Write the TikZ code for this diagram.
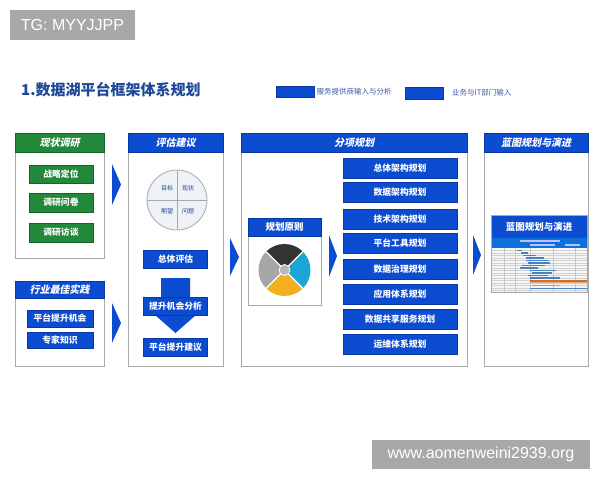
\documentclass[tikz,border=0pt]{standalone}
\usepackage{fontspec}
\setmainfont{Liberation Sans}
\newfontfamily\cjk{Noto Sans CJK SC}
\newfontfamily\cjki{Noto Sans CJK SC}[FakeSlant=0.22]
\definecolor{bblue}{RGB}{12,76,208}
\definecolor{bdark}{RGB}{8,56,160}
\definecolor{ggreen}{RGB}{34,136,58}
\definecolor{gdark}{RGB}{24,100,40}
\definecolor{pgray}{RGB}{166,168,172}
\definecolor{titleblue}{RGB}{30,72,150}
\definecolor{legtext}{RGB}{60,90,160}
\definecolor{wmgray}{RGB}{168,168,168}
\definecolor{circfill}{RGB}{238,241,245}
\definecolor{barblue}{RGB}{70,130,195}
\definecolor{barorange}{RGB}{210,110,40}
\definecolor{wcyan}{RGB}{30,165,215}
\definecolor{wyellow}{RGB}{242,176,30}
\begin{document}
\begin{tikzpicture}[x=1pt,y=-1pt,
  panel/.style={draw=pgray,fill=white,line width=0.8,inner sep=0,rectangle},
  bbox/.style={draw=bdark,fill=bblue,text=white,inner sep=0,line width=0.4,rectangle,
    font=\cjk\bfseries\fontsize{8.8}{9}\selectfont},
  gbox/.style={bbox,draw=gdark,fill=ggreen},
  hdr/.style={bbox,font=\cjki\bfseries\fontsize{10}{11}\selectfont},
  ghdr/.style={hdr,draw=gdark,fill=ggreen},
  chevron/.style={fill=bblue},
  wm/.style={fill=wmgray,text=white,inner sep=0,rectangle,font=\fontsize{16}{18}\selectfont},
  qlabel/.style={text=titleblue,inner sep=0,font=\cjk\fontsize{6}{7}\selectfont}
]
\useasboundingbox (0,0) rectangle (600,480);
\fill[white] (0,0) rectangle (600,480);

% watermarks
\node[wm,minimum width=125,minimum height=30] (wmtop) at (72.5,25) {TG: MYYJJPP};
\node[wm,minimum width=218,minimum height=29] (wmbot) at (481,454.5) {www.aomenweini2939.org};

% title and legend
\node[anchor=west,inner sep=0,text=titleblue,font=\cjk\bfseries\fontsize{15}{16}\selectfont] (title) at (21,90) {1.数据湖平台框架体系规划};
\node[draw=bdark,fill=bblue,inner sep=0,minimum width=38,minimum height=11] (leg1) at (295,91.5) {};
\node[anchor=west,inner sep=0,text=legtext,font=\cjk\fontsize{7.5}{8}\selectfont] (leg1t) at (316.5,91.5) {服务提供商输入与分析};
\node[draw=bdark,fill=bblue,inner sep=0,minimum width=38,minimum height=12] (leg2) at (424,93) {};
\node[anchor=west,inner sep=0,text=legtext,font=\cjk\fontsize{7.5}{8}\selectfont] (leg2t) at (452,93) {业务与IT部门输入};

% column 1 upper
\node[panel,minimum width=89,minimum height=125] (p1) at (59.5,195.5) {};
\node[ghdr,minimum width=89,minimum height=19] (h1) at (59.5,142.5) {现状调研};
\node[gbox,minimum width=64,minimum height=18] (g1) at (61,174) {战略定位};
\node[gbox,minimum width=64,minimum height=19] (g2) at (61,202.5) {调研问卷};
\node[gbox,minimum width=64,minimum height=19] (g3) at (61,232.5) {调研访谈};

% column 1 lower
\node[panel,minimum width=89,minimum height=85] (p2) at (59.5,323.5) {};
\node[hdr,minimum width=89,minimum height=17] (h2) at (59.5,289.5) {行业最佳实践};
\node[bbox,minimum width=66,minimum height=17] (b1) at (60,318.5) {平台提升机会};
\node[bbox,minimum width=66,minimum height=16] (b2) at (60,340) {专家知识};

% column 2
\node[panel,minimum width=95,minimum height=233] (p3) at (175.5,249.5) {};
\node[hdr,minimum width=95,minimum height=19] (h3) at (175.5,142.5) {评估建议};
\node[circle,draw=pgray,fill=circfill,line width=0.8,minimum size=60,inner sep=0] (circ) at (177,200) {};
\draw[pgray,line width=0.8] (circ.north) -- (circ.south) (circ.west) -- (circ.east);
\node[qlabel] (q1) at (167,188) {目标};
\node[qlabel] (q2) at (188,188) {现状};
\node[qlabel] (q3) at (167,211) {期望};
\node[qlabel] (q4) at (188,211) {问题};
\node[bbox,minimum width=64,minimum height=18] (e1) at (175.5,259) {总体评估};
\fill[bblue] (161,278) -- (190,278) -- (190,315) -- (196,315) -- (175.5,333) -- (155,315) -- (161,315) -- cycle;
\node[bbox,minimum width=64,minimum height=18] (e2) at (175.5,306) {提升机会分析};
\node[bbox,minimum width=64,minimum height=18] (e3) at (175.5,347) {平台提升建议};

% column 3
\node[panel,minimum width=226,minimum height=233] (p4) at (354,249.5) {};
\node[hdr,minimum width=226,minimum height=19] (h4) at (354,142.5) {分项规划};
\node[panel,minimum width=73,minimum height=87] (p5) at (284.5,261.5) {};
\node[bbox,minimum width=73,minimum height=18,font=\cjk\bfseries\fontsize{9.5}{10}\selectfont] (h5) at (284.5,227) {规划原则};
\coordinate (wc) at (284.5,270);
% y axis points down: angles 45..135 are the lower half
\fill[black!80] (wc) -- ++(-45:26) arc[start angle=-45,end angle=-135,radius=26] -- cycle;
\fill[wcyan] (wc) -- ++(-45:26) arc[start angle=-45,end angle=45,radius=26] -- cycle;
\fill[wyellow] (wc) -- ++(45:26) arc[start angle=45,end angle=135,radius=26] -- cycle;
\fill[gray!70] (wc) -- ++(135:26) arc[start angle=135,end angle=225,radius=26] -- cycle;
\draw[white,line width=1.2] (wc) -- ++(45:26) (wc) -- ++(135:26) (wc) -- ++(-45:26) (wc) -- ++(-135:26);
\node[circle,fill=gray!55,draw=white,line width=0.8,minimum size=11,inner sep=0] (wcen) at (wc) {};
\foreach \i/\yy/\t in {1/168/总体架构规划,2/192/数据架构规划,3/219/技术架构规划,4/243/平台工具规划,5/269/数据治理规划,6/294.5/应用体系规划,7/319.5/数据共享服务规划,8/344.5/运维体系规划}
  \node[bbox,minimum width=114,minimum height=20] (l\i) at (400,\yy) {\t};

% column 4
\node[panel,minimum width=104,minimum height=233] (p6) at (536,249.5) {};
\node[hdr,minimum width=104,minimum height=19] (h6) at (536,142.5) {蓝图规划与演进};
\node[fill=bblue,inner sep=0,minimum width=96,minimum height=23,text=white,font=\cjk\bfseries\fontsize{9.5}{10}\selectfont] (gh) at (539,226.5) {蓝图规划与演进};
\fill[bblue!80!cyan] (491,238) rectangle (587,248);
\fill[white!75!blue] (520,240) rectangle (560,241.5);
\fill[white!75!blue] (530,244) rectangle (555,245.5);
\fill[white!75!blue] (565,244) rectangle (580,245.5);
\fill[black!4] (491,248) rectangle (587,292);
\foreach \yy in {250.5,253,...,291}
  \draw[black!18,line width=0.2] (491,\yy) -- (587,\yy);
\foreach \xx in {504,515,530,553,575}
  \draw[black!22,line width=0.3] (\xx,248) -- (\xx,292);
\foreach \yy/\xa/\xb in {249.5/517/522,252/521/528,254.5/523/536,257/526/544,259.5/526/549,262/528/550,264.5/522/545,267/520/538,269.5/530/556,272/532/552,274.5/528/548,277/530/560}
  \fill[barblue] (\xa,\yy) rectangle (\xb,\yy+1.6);
\fill[barorange] (530,279.5) rectangle (587,281.5);
\fill[barorange!60] (530,282) rectangle (587,283);
\fill[barblue!70] (532,284.5) rectangle (560,286);
\fill[barblue] (530,287.5) rectangle (587,289);
\draw[pgray,line width=0.4] (491,215) rectangle (587,292);

% chevrons
\fill[chevron] (112,164) -- (121,184.5) -- (112,205) -- cycle;
\fill[chevron] (112,303) -- (121,323) -- (112,343) -- cycle;
\fill[chevron] (230,238) -- (239,257) -- (230,276) -- cycle;
\fill[chevron] (329,235) -- (337,256) -- (329,277) -- cycle;
\fill[chevron] (473,235) -- (481,255) -- (473,275) -- cycle;
\end{tikzpicture}
\end{document}
